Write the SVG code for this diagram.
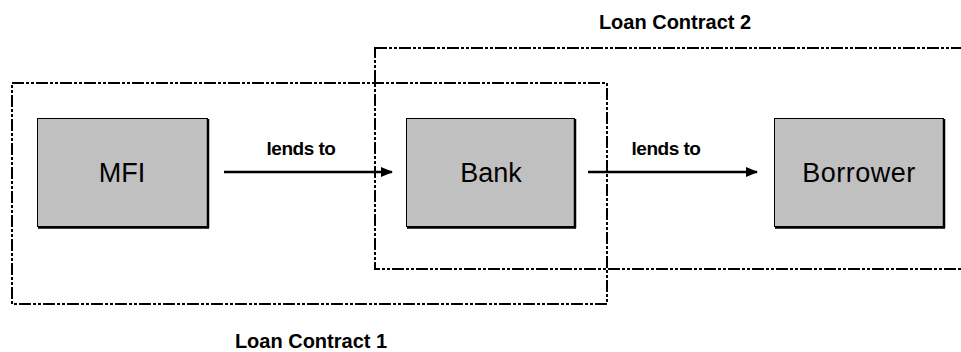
<svg xmlns="http://www.w3.org/2000/svg" width="961" height="352" viewBox="0 0 961 352">
  <defs>
    <marker id="arrowhead" viewBox="0 0 12 10" refX="11" refY="5" markerWidth="12" markerHeight="10" markerUnits="userSpaceOnUse" orient="auto">
      <path d="M0,0 L12,5 L0,10 Z" fill="#000"/>
    </marker>
    <style>
      .contract { fill: none; stroke: #000; stroke-width: 2; stroke-dasharray: 12 2 3 2 3 2; }
      .node-box { fill: #c0c0c0; stroke: #000; stroke-width: 1; }
      .shadow { fill: none; stroke: #000; stroke-width: 2.5; }
      .node-label { font-family: "Liberation Sans", Arial, sans-serif; font-size: 27px; fill: #000; text-anchor: middle; }
      .edge-label { font-family: "Liberation Sans", Arial, sans-serif; font-size: 19px; font-weight: bold; fill: #000; text-anchor: middle; letter-spacing: -0.5px; }
      .contract-label { font-family: "Liberation Sans", Arial, sans-serif; font-size: 20px; font-weight: bold; fill: #000; text-anchor: middle; }
      .link { stroke: #000; stroke-width: 2.5; fill: none; marker-end: url(#arrowhead); }
    </style>
  </defs>
  <rect width="961" height="352" fill="#fff"/>

  <!-- Contract boundaries -->
  <g id="contract-1">
    <rect class="contract" x="12" y="83" width="595" height="221"/>
    <text class="contract-label" x="311" y="348">Loan Contract 1</text>
  </g>
  <g id="contract-2">
    <rect class="contract" x="375" y="48" width="600" height="221"/>
    <text class="contract-label" x="675" y="29">Loan Contract 2</text>
  </g>

  <!-- Parties -->
  <g id="mfi">
    <rect class="node-box" x="37.5" y="118.5" width="170" height="108"/>
    <path class="shadow" d="M208,119 V228 M38,227.5 H209"/>
    <text class="node-label" x="122" y="182">MFI</text>
  </g>
  <g id="bank">
    <rect class="node-box" x="406.5" y="118.5" width="168" height="108"/>
    <path class="shadow" d="M575,119 V228 M407,227.5 H576"/>
    <text class="node-label" x="491" y="182">Bank</text>
  </g>
  <g id="borrower">
    <rect class="node-box" x="774.5" y="118.5" width="169" height="108"/>
    <path class="shadow" d="M944,119 V228 M775,227.5 H945"/>
    <text class="node-label" x="859" y="182" letter-spacing="0.5">Borrower</text>
  </g>

  <!-- Lending relations -->
  <g id="connectors">
    <line class="link" x1="224" y1="172" x2="392" y2="172"/>
    <text class="edge-label" x="301" y="155">lends to</text>
    <line class="link" x1="588" y1="172" x2="757" y2="172"/>
    <text class="edge-label" x="666" y="155">lends to</text>
  </g>
</svg>
